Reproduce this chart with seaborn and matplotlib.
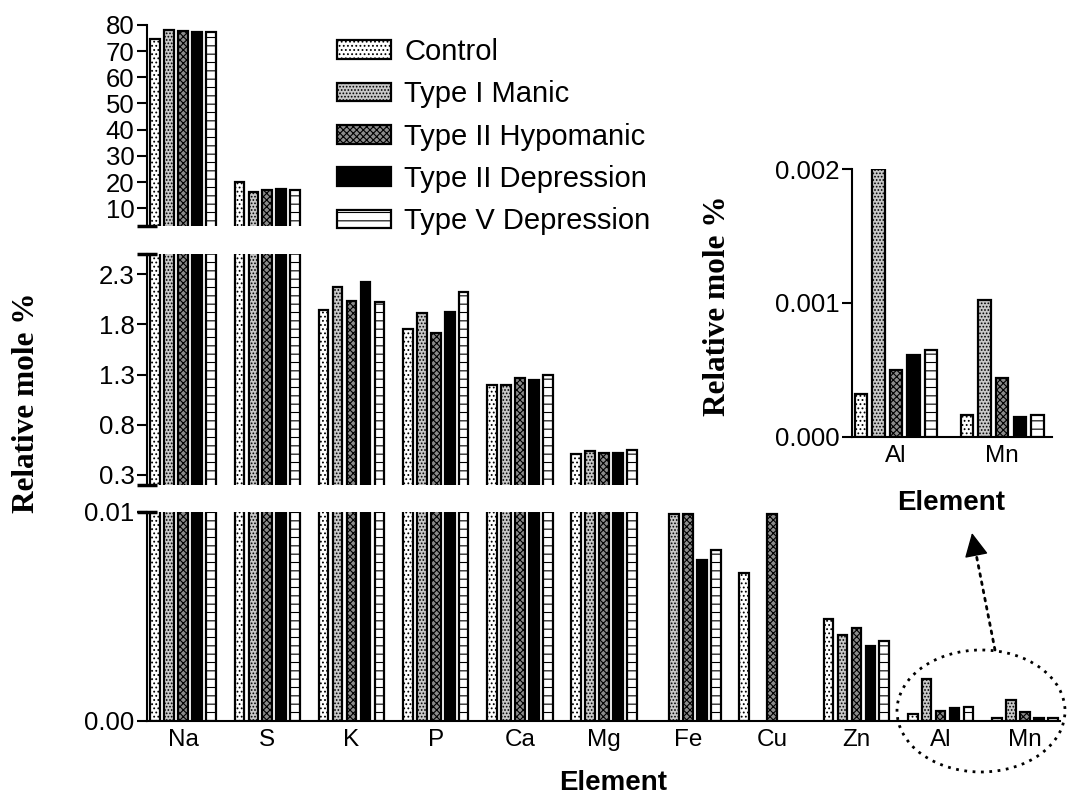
import numpy as np
import pandas as pd
import matplotlib.pyplot as plt
import seaborn as sns
from matplotlib.patches import Patch, Ellipse

elements = ["Na", "S", "K", "P", "Ca", "Mg", "Fe", "Cu", "Zn", "Al", "Mn"]
groups = ["Control", "Type I Manic", "Type II Hypomanic", "Type II Depression", "Type V Depression"]

# relative mole % per group (nan = not detected)
control = [74.5, 20.1, 1.94, 1.75, 1.20, 0.51, np.nan, 0.0071, 0.0049, 0.00032, 0.00016]
type1_manic = [78.2, 16.0, 2.17, 1.91, 1.20, 0.54, 0.0099, np.nan, 0.0041, 0.0020, 0.00102]
type2_hypomanic = [77.6, 17.0, 2.03, 1.71, 1.27, 0.52, 0.0099, 0.0099, 0.00447, 0.00050, 0.00044]
type2_depression = [77.2, 17.2, 2.22, 1.92, 1.25, 0.52, 0.0077, np.nan, 0.0036, 0.00061, 0.00015]
type5_depression = [77.2, 17.0, 2.02, 2.12, 1.30, 0.55, 0.0082, np.nan, 0.00385, 0.00065, 0.00016]

inset_elements = ["Al", "Mn"]

wide = pd.DataFrame(
    dict(zip(groups, [control, type1_manic, type2_hypomanic, type2_depression, type5_depression])),
    index=elements,
)
df = wide.reset_index(names="Element").melt(id_vars="Element", var_name="Group", value_name="Mole").dropna()
df_in = df[df["Element"].isin(inset_elements)]

sns.set_style("ticks")
plt.rcParams["font.family"] = ["Liberation Sans", "DejaVu Sans"]
plt.rcParams["hatch.linewidth"] = 0.8
for key in ["text.color", "axes.labelcolor", "xtick.color", "ytick.color", "axes.edgecolor"]:
    plt.rcParams[key] = "black"

# fill styles per group
styles = [
    dict(facecolor="white", hatch="...."),
    dict(facecolor="#c8c8c8", hatch="....."),
    dict(facecolor="#8c8c8c", hatch="xxxxx"),
    dict(facecolor="black", hatch=None),
    dict(facecolor="white", hatch="--"),
]


def draw_bars(ax, data, order):
    sns.barplot(data=data, x="Element", y="Mole", hue="Group", order=order, hue_order=groups,
                width=0.83, gap=0.3, errorbar=None, legend=False, ax=ax)
    for cont, st in zip(ax.containers, styles):
        for p in cont:
            p.set_facecolor(st["facecolor"])
            p.set_edgecolor("black")
            p.set_linewidth(1.6)
            if st["hatch"]:
                p.set_hatch(st["hatch"])


fig = plt.figure(figsize=(10.67, 7.95), dpi=100)
ax_top = fig.add_axes([0.1378, 0.7151, 0.8557, 0.2535])
ax_mid = fig.add_axes([0.1378, 0.3899, 0.8557, 0.2906])
ax_bot = fig.add_axes([0.1378, 0.0931, 0.8557, 0.2629])
ax_in = fig.add_axes([0.7985, 0.4507, 0.1875, 0.3367])

for ax in [ax_top, ax_mid, ax_bot]:
    draw_bars(ax, df, elements)
    ax.set_xlim(-0.43, 10.42)
    ax.set_ylabel("")
    ax.set_xlabel("")
    sns.despine(ax=ax)
    ax.tick_params(axis="y", labelsize=18.5, length=7, width=1.5, pad=2)
    ax.spines["left"].set_linewidth(1.5)

for ax in [ax_top, ax_mid]:
    ax.spines["bottom"].set_visible(False)
    ax.set_xticks([])

ax_top.set_ylim(3, 80)
ax_top.set_yticks([10, 20, 30, 40, 50, 60, 70, 80])
ax_mid.set_ylim(0.2, 2.5)
ax_mid.set_yticks([0.3, 0.8, 1.3, 1.8, 2.3])
ax_mid.set_yticklabels(["0.3", "0.8", "1.3", "1.8", "2.3"])
ax_bot.set_ylim(0, 0.01)
ax_bot.set_yticks([0.0, 0.01])
ax_bot.set_yticklabels(["0.00", "0.01"])
ax_bot.tick_params(axis="x", labelsize=17.5, length=0, pad=6)
ax_bot.spines["bottom"].set_linewidth(1.5)
ax_bot.set_xlabel("Element", fontsize=20, fontweight="bold")
ax_bot.xaxis.set_label_coords(0.511, -0.235)

# break marks at the ends of the split y axis
for ax, ys in [(ax_top, [0]), (ax_mid, [0, 1]), (ax_bot, [1])]:
    for y in ys:
        ax.plot([0], [y], marker="_", ms=14, mew=2.5, color="black",
                transform=ax.transAxes, clip_on=False)

fig.text(0.025, 1 - 403 / 795, "Relative mole %", rotation=90, ha="center", va="center",
         fontsize=22.5, fontweight="bold", family="Liberation Serif")

# inset for Al and Mn
draw_bars(ax_in, df_in, inset_elements)
ax_in.set_xlim(-0.415, 1.47)
ax_in.set_ylim(0, 0.002)
ax_in.set_yticks([0.0, 0.001, 0.002])
ax_in.set_yticklabels(["0.000", "0.001", "0.002"])
sns.despine(ax=ax_in)
ax_in.tick_params(axis="y", labelsize=18.5, length=7, width=1.5, pad=2)
ax_in.tick_params(axis="x", labelsize=17.5, length=0, pad=6)
for s in ["left", "bottom"]:
    ax_in.spines[s].set_linewidth(1.5)
ax_in.set_xlabel("Element", fontsize=20, fontweight="bold")
ax_in.xaxis.set_label_coords(0.495, -0.2)
ax_in.set_ylabel("Relative mole %", fontsize=22.5, fontweight="bold", family="Liberation Serif")
ax_in.yaxis.set_label_coords(-0.6, 0.49)

# legend
handles = [Patch(facecolor=st["facecolor"], edgecolor="black", hatch=st["hatch"], linewidth=1.6)
           for st in styles]
fig.legend(handles, groups, loc="upper left", bbox_to_anchor=(337 / 1067, 1 - 38 / 795),
           frameon=False, fontsize=21, handlelength=1.85, handleheight=0.6,
           handletextpad=0.45, labelspacing=0.49, borderpad=0, borderaxespad=0)

# dotted ellipse around Al/Mn and arrow to the inset
fig.add_artist(Ellipse((981 / 1067, 1 - 711 / 795), 168 / 1067, 122 / 795,
                       transform=fig.transFigure, fill=False, edgecolor="black",
                       linestyle=(0, (1, 2)), linewidth=2, zorder=10))
start = (995, 795 - 650)
tip = (972, 795 - 533)
base = (975.1, 795 - 549)
ax_bot.annotate("", xy=base, xycoords="figure pixels", xytext=start, textcoords="figure pixels",
                annotation_clip=False,
                arrowprops=dict(arrowstyle="-", linestyle=(0, (1, 2)), lw=2, color="black",
                                shrinkA=0, shrinkB=0))
ax_bot.annotate("", xy=tip, xycoords="figure pixels", xytext=base, textcoords="figure pixels",
                annotation_clip=False,
                arrowprops=dict(arrowstyle="-|>,head_length=0.6,head_width=0.3", lw=1,
                                color="black", mutation_scale=25, shrinkA=0, shrinkB=0))

fig.savefig("out.png", dpi=100)
